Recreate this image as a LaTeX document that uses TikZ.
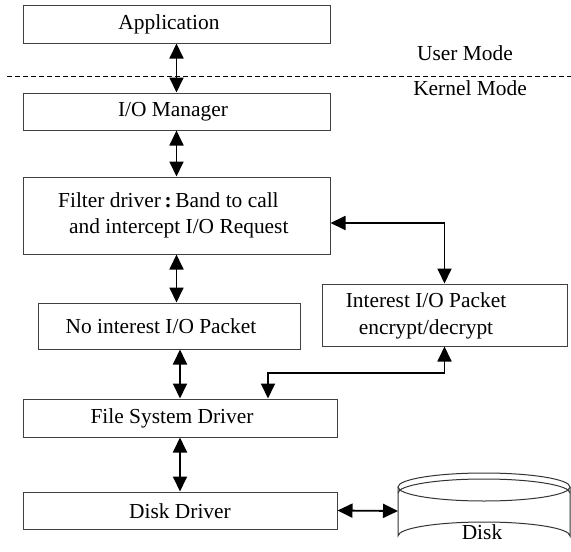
\documentclass[tikz,border=0pt]{standalone}
\usepackage{fontspec}
\setmainfont{Liberation Serif}
\usetikzlibrary{arrows.meta}
\begin{document}
\begin{tikzpicture}[x=1pt,y=-1pt,
  box/.style={draw=black!75,line width=1pt,rectangle,inner sep=0pt},
  txt/.style={inner sep=0pt,font=\fontsize{21.4}{25.6}\selectfont},
  dar/.style={line width=1.8pt,{Triangle[length=15pt,width=14pt]}-{Triangle[length=15pt,width=14pt]}},
  modeline/.style={line width=0.8pt,dash pattern=on 5pt off 3pt}]
\useasboundingbox (0,0) rectangle (571,552);
% boxes
\node[box,minimum width=307pt,minimum height=38pt] (app) at (176.5,24) {};
\node[box,minimum width=307pt,minimum height=37pt] (iom) at (176.5,111.5) {};
\node[box,minimum width=307pt,minimum height=77pt] (filt) at (176.5,215.5) {};
\node[box,minimum width=262pt,minimum height=46pt] (noint) at (169,326) {};
\node[box,minimum width=245pt,minimum height=62pt] (int) at (444.5,315) {};
\node[box,minimum width=314pt,minimum height=38pt] (fsd) at (180,418) {};
\node[box,minimum width=314pt,minimum height=37pt] (dd) at (180,510.5) {};
% texts
\node[txt] (tapp) at (169,24) {Application};
\node[txt] (tiom) at (173,111.5) {I/O Manager};
\node[txt,anchor=west,align=left] (tfilt) at (58,215.5) {Filter driver\,\textbf{:}\,Band to call\\\hspace*{11pt}and intercept I/O Request};
\node[txt] (tnoint) at (161,326) {No interest I/O Packet};
\node[txt,align=center,font=\fontsize{21.4}{26.6}\selectfont] (tint) at (426,316) {Interest I/O Packet\\encrypt/decrypt};
\node[txt] (tfsd) at (172,418) {File System Driver};
\node[txt] (tdd) at (180,511) {Disk Driver};
\node[txt] (user) at (465,53) {User Mode};
\node[txt] (kern) at (470,88) {Kernel Mode};
% mode separator
\coordinate (ml) at (7,76);
\coordinate (mr) at (571,76);
\draw[modeline] (ml) -- (mr);
% disk
\draw[line width=1pt,draw=black!80] (398,487) -- (398,536) arc[start angle=180,end angle=360,x radius=86,y radius=14] -- (570,487);
\draw[line width=1pt,draw=black!80] (484,487) ellipse[x radius=86,y radius=14];
\draw[line width=1pt,draw=black!80] (398,493) arc[start angle=180,end angle=360,x radius=86,y radius=14];
\coordinate (diskw) at (398,511);
\node[txt] (tdisk) at (482,532) {Disk};
% connectors
\draw[dar] (app.south) -- (iom.north);
\draw[dar] (iom.south) -- (filt.north);
\draw[dar] (filt.south) -- (filt.south |- noint.north);
\draw[dar] (noint.south -| fsd.north) -- (fsd.north);
\draw[dar] (fsd.south) -- (dd.north);
\draw[dar] (dd.east) -- (diskw);
\draw[dar] ([yshift=-7.5pt]filt.east) -| (int.north);
\coordinate (bend) at (268,373);
\draw[dar] (int.south) |- (bend) -- (bend |- fsd.north);
\end{tikzpicture}
\end{document}
